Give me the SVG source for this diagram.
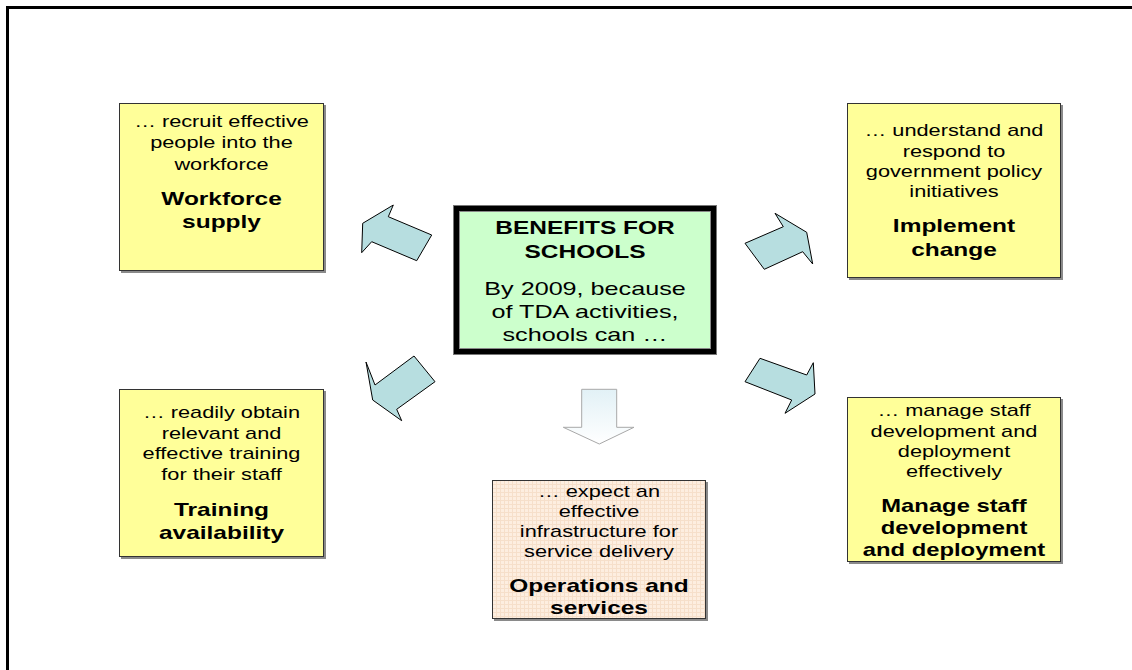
<svg xmlns="http://www.w3.org/2000/svg" width="1132" height="670" viewBox="0 0 1132 670">
<defs>
<style>
text{font-family:"Liberation Sans",Arial,sans-serif;fill:#000;text-anchor:middle}
.s{font-size:16px}
.c{font-size:18.5px}
.b{font-size:18px;font-weight:bold}
.bm{font-size:17.5px;font-weight:bold}
.box{fill:#ffff99;stroke:#333;stroke-width:1}
.sh{fill:#8a8a8a}
.arr{fill:#b7dee0;stroke:#000;stroke-width:1;stroke-linejoin:miter}
</style>
<pattern id="grid" width="4" height="4" patternUnits="userSpaceOnUse">
<rect width="4" height="4" fill="#fdeee0"/>
<path d="M0 0.5H4M0.5 0V4" stroke="#f6dfca" stroke-width="1"/>
</pattern>
<linearGradient id="dg" x1="0" y1="0" x2="0" y2="1">
<stop offset="0" stop-color="#e2f1f6"/>
<stop offset="1" stop-color="#ffffff"/>
</linearGradient>
</defs>
<rect width="1132" height="670" fill="#fff"/>
<path d="M7.5 670V7.5H1132" fill="none" stroke="#000" stroke-width="3"/>

<g id="connectors">
<polygon class="arr" points="393.3,205 388.3,216.7 431.7,235 416.7,260.7 371.7,241.7 361.7,252.7 362.7,223.3"/>
<polygon class="arr" points="366,362 375,385 414,356 435,381.7 396.7,409.3 401.7,420.7 372.7,400"/>
<polygon class="arr" points="745,243.3 783.3,226.7 775,213.3 806.7,232.3 812.7,264 802.7,251.7 764.3,269.3"/>
<polygon class="arr" points="760,358.3 806.7,375 813.3,362.7 815,394 785,413.3 791.7,400 745,381.7"/>
<polygon points="581.7,389.3 616.7,389.3 616.7,427.3 634,427.3 599.3,444 563.3,427.3 581.7,427.3" fill="url(#dg)" stroke="#a8a8a8" stroke-width="1"/>
</g>

<g id="center">
<rect x="453.5" y="205.5" width="263" height="149" fill="#ccffcc" stroke="#777" stroke-width="1"/>
<rect x="456.5" y="208.5" width="257" height="143" fill="none" stroke="#000" stroke-width="5"/>
<rect x="459.5" y="211.5" width="251" height="137" fill="none" stroke="#888" stroke-width="1"/>
<text class="b" transform="translate(585,234) scale(1.36,1)">BENEFITS FOR</text>
<text class="b" transform="translate(585,258) scale(1.36,1)">SCHOOLS</text>
<text class="c" transform="translate(585,295) scale(1.36,1)">By 2009, because</text>
<text class="c" transform="translate(585,318) scale(1.36,1)">of TDA activities,</text>
<text class="c" transform="translate(585,341) scale(1.36,1)">schools can …</text>
</g>

<g id="workforce">
<rect class="sh" x="121" y="105" width="205" height="168"/>
<rect class="box" x="119.5" y="103.5" width="204" height="167"/>
<text class="s" transform="translate(221.5,127) scale(1.36,1)">… recruit effective</text>
<text class="s" transform="translate(221.5,148) scale(1.36,1)">people into the</text>
<text class="s" transform="translate(221.5,170) scale(1.36,1)">workforce</text>
<text class="b" transform="translate(221.5,205) scale(1.36,1)">Workforce</text>
<text class="b" transform="translate(221.5,228) scale(1.36,1)">supply</text>
</g>

<g id="implement">
<rect class="sh" x="849" y="105" width="214" height="175"/>
<rect class="box" x="847.5" y="103.5" width="213" height="174"/>
<text class="s" transform="translate(954,136) scale(1.36,1)">… understand and</text>
<text class="s" transform="translate(954,157) scale(1.36,1)">respond to</text>
<text class="s" transform="translate(954,177) scale(1.36,1)">government policy</text>
<text class="s" transform="translate(954,197) scale(1.36,1)">initiatives</text>
<text class="b" transform="translate(954,232) scale(1.36,1)">Implement</text>
<text class="b" transform="translate(954,256) scale(1.36,1)">change</text>
</g>

<g id="training">
<rect class="sh" x="121" y="391" width="205" height="168"/>
<rect class="box" x="119.5" y="389.5" width="204" height="167"/>
<text class="s" transform="translate(221.5,418) scale(1.36,1)">… readily obtain</text>
<text class="s" transform="translate(221.5,439) scale(1.36,1)">relevant and</text>
<text class="s" transform="translate(221.5,459) scale(1.36,1)">effective training</text>
<text class="s" transform="translate(221.5,480) scale(1.36,1)">for their staff</text>
<text class="b" transform="translate(221.5,516) scale(1.36,1)">Training</text>
<text class="b" transform="translate(221.5,539) scale(1.36,1)">availability</text>
</g>

<g id="manage">
<rect class="sh" x="849" y="399" width="214" height="165"/>
<rect class="box" x="847.5" y="397.5" width="213" height="164"/>
<text class="s" transform="translate(954,416) scale(1.36,1)">… manage staff</text>
<text class="s" transform="translate(954,437) scale(1.36,1)">development and</text>
<text class="s" transform="translate(954,457) scale(1.36,1)">deployment</text>
<text class="s" transform="translate(954,477) scale(1.36,1)">effectively</text>
<text class="bm" transform="translate(954,512) scale(1.36,1)">Manage staff</text>
<text class="bm" transform="translate(954,534) scale(1.36,1)">development</text>
<text class="bm" transform="translate(954,556) scale(1.36,1)">and deployment</text>
</g>

<g id="operations">
<rect class="sh" x="494" y="482" width="214" height="139"/>
<rect x="492.5" y="480.5" width="213" height="138" fill="url(#grid)" stroke="#333" stroke-width="1"/>
<text class="s" transform="translate(599,497) scale(1.36,1)">… expect an</text>
<text class="s" transform="translate(599,517) scale(1.36,1)">effective</text>
<text class="s" transform="translate(599,537) scale(1.36,1)">infrastructure for</text>
<text class="s" transform="translate(599,557) scale(1.36,1)">service delivery</text>
<text class="b" transform="translate(599,592) scale(1.36,1)">Operations and</text>
<text class="b" transform="translate(599,614) scale(1.36,1)">services</text>
</g>
</svg>
